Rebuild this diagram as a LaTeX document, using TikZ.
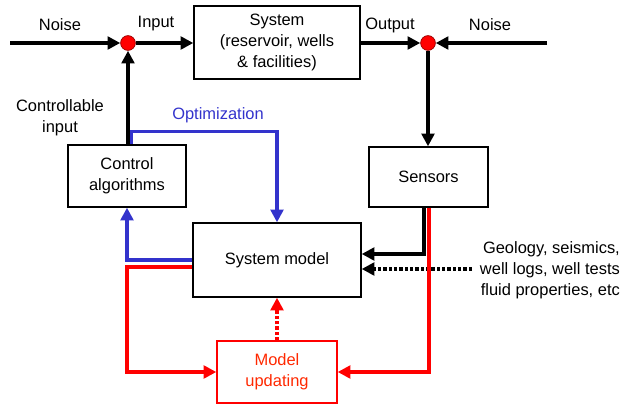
\documentclass[tikz,border=0pt]{standalone}
\usepackage{fontspec}
\setmainfont{Liberation Sans}
\usetikzlibrary{arrows.meta}
\definecolor{optblue}{RGB}{51,51,204}
\definecolor{updred}{RGB}{255,40,0}
\tikzset{
  block/.style={draw, line width=1pt, align=center, inner sep=0pt},
  sumpt/.style={circle, draw=red!60!black, fill=red, minimum size=0.37cm, inner sep=0pt, line width=0.5pt},
  flow/.style={line width=2.3pt, -{Triangle[length=9pt,width=9pt]}},
  dotflow/.style={flow, dash pattern=on 2.4pt off 1.4pt}
}

\begin{document}
\begin{tikzpicture}[font=\fontsize{11.7}{15}\selectfont]
    \useasboundingbox (0,0) rectangle (15.65,10.1);

    % draw blocks
    \node[block, minimum width=4.15cm, minimum height=1.825cm] (sys) at (6.925,9.0375) {System\\(reservoir, wells\\\& facilities)};
    \node[block, minimum width=2.95cm, minimum height=1.55cm] (ctrl) at (3.175,5.7) {Control\\algorithms};
    \node[block, minimum width=2.975cm, minimum height=1.5cm] (sens) at (10.7125,5.675) {Sensors};
    \node[block, minimum width=4.2cm, minimum height=1.85cm] (sysm) at (6.925,3.6) {System model};
    \node[block, draw=red, text=updred, minimum width=3cm, minimum height=1.55cm] (upd) at (6.925,0.8) {Model\\updating};

    % draw summing points
    \node[sumpt] (s1) at (3.2,9.025) {};
    \node[sumpt] (s2) at (10.7,9.025) {};
    \coordinate (nl) at (0.25,9.025);
    \coordinate (nr) at (13.675,9.025);
    \coordinate (geo) at (11.8,3.375);

    % draw labels
    \node (noisel) at (1.5,9.475) {Noise};
    \node (inp) at (3.9,9.5) {Input};
    \node (outp) at (9.75,9.475) {Output};
    \node (noiser) at (12.25,9.475) {Noise};
    \node[align=center] (cinp) at (1.5,7.15) {Controllable\\input};
    \node[text=optblue] (opt) at (5.45,7.225) {Optimization};
    \node[align=right, anchor=east] (geotxt) at (15.62,3.34) {Geology, seismics,\\well logs, well tests\\fluid properties, etc};

    % draw black connectors
    \draw[flow] (nl) -- (s1);
    \draw[flow] (s1) -- (s1 -| sys.west);
    \draw[flow] (s1 -| sys.east) -- (s2);
    \draw[flow] (nr) -- (s2);
    \draw[flow] (s2) -- (s2 |- sens.north);
    \draw[flow] (ctrl.north -| s1) -- (s1);
    \draw[flow] ([xshift=-0.1125cm]sens.south) |- ([yshift=0.15cm]sysm.east);
    \draw[dotflow] (geo) -- (geo -| sysm.east);

    % draw blue connectors
    \draw[flow, optblue] ([xshift=0.08cm]ctrl.north -| s1) -- ++(0,0.325) -| (sysm.north);
    \draw[flow, optblue] (sysm.west) -| (ctrl.south);

    % draw red connectors
    \draw[flow, red] ([yshift=-0.175cm]sysm.west) -- ([yshift=-0.175cm]sysm.west -| ctrl.south) |- (upd.west);
    \draw[flow, red] ([xshift=0.0125cm]sens.south) |- (upd.east);
    \draw[dotflow, red] (upd) -- (sysm);
\end{tikzpicture}
\end{document}
